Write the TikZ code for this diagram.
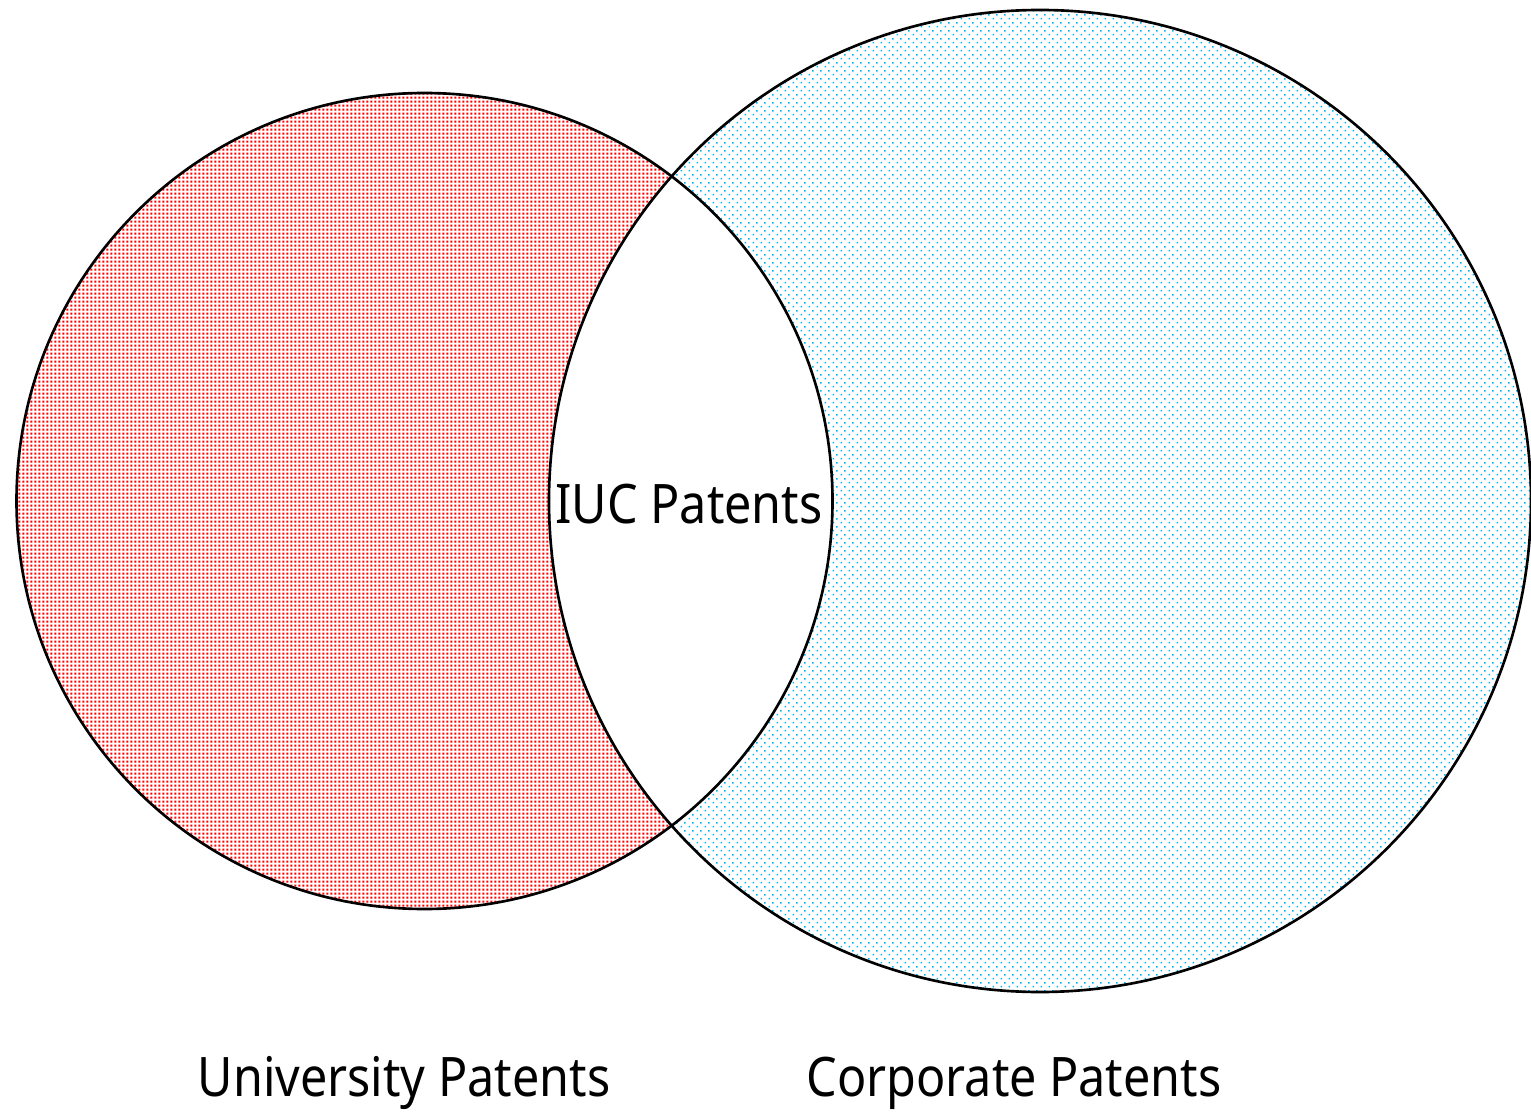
\documentclass[tikz,border=0pt]{standalone}
\usepackage{fontspec}
\setmainfont{Noto Sans}
\usetikzlibrary{patterns}

% dense red dot grid
\pgfdeclarepatterninherentlycolored{reddots}{\pgfpointorigin}{\pgfqpoint{1pt}{1pt}}{\pgfqpoint{1pt}{1pt}}{%
  \definecolor{dotred}{RGB}{255,0,0}%
  \pgfsetfillcolor{dotred}%
  \pgfpathrectangle{\pgfqpoint{0.15pt}{0.15pt}}{\pgfqpoint{0.64pt}{0.64pt}}%
  \pgfusepath{fill}}

% sparse staggered blue dot grid
\pgfdeclarepatterninherentlycolored{bluedots}{\pgfpointorigin}{\pgfqpoint{2.28pt}{2.34pt}}{\pgfqpoint{2.28pt}{2.34pt}}{%
  \definecolor{dotblue}{RGB}{0,176,240}%
  \pgfsetfillcolor{dotblue}%
  \pgfpathrectangle{\pgfqpoint{0.2pt}{0.2pt}}{\pgfqpoint{0.46pt}{0.46pt}}%
  \pgfpathrectangle{\pgfqpoint{1.34pt}{1.37pt}}{\pgfqpoint{0.46pt}{0.46pt}}%
  \pgfusepath{fill}}

\tikzset{
  setline/.style={draw=black, line width=0.75pt},
  label/.style={font=\fontsize{15.5}{18}\selectfont, anchor=base, inner sep=0pt,
    xscale=0.89, transform shape}
}

\begin{document}
\begin{tikzpicture}
  \useasboundingbox (0,0) rectangle (15.31,11.11);
  \coordinate (uc) at (4.245,6.10);
  \coordinate (cc) at (10.40,6.10);

  % filled sets
  \fill[pattern=reddots] (uc) circle (4.08);
  \fill[pattern=bluedots] (cc) circle (4.91);
  % overlap left blank
  \begin{scope}
    \clip (uc) circle (4.08);
    \fill[white] (cc) circle (4.91);
  \end{scope}
  % outlines
  \draw[setline] (uc) circle (4.08);
  \draw[setline] (cc) circle (4.91);

  \node[label] (iuc) at (6.89,5.88) {IUC Patents};
  \node[label] (univ) at (4.04,0.15) {University Patents};
  \node[label] (corp) at (10.14,0.15) {Corporate Patents};
\end{tikzpicture}
\end{document}
